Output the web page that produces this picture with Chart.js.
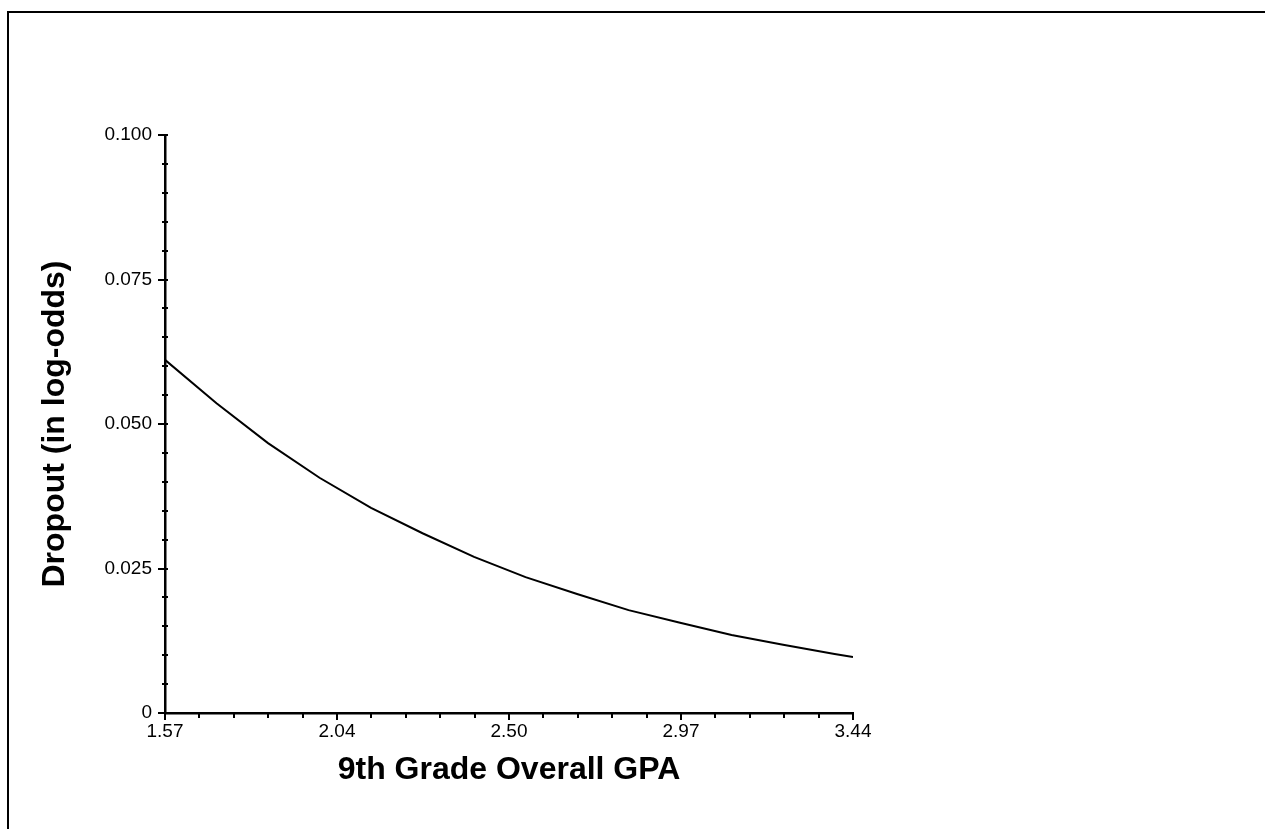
<!DOCTYPE html>
<html>
<head>
<meta charset="utf-8">
<script src="https://cdn.jsdelivr.net/npm/chart.js@4"></script>
<style>
  body { margin: 0; background: #fff; }
</style>
</head>
<body>
<canvas id="grafico" width="1265" height="829"></canvas>
<script>
// values
const gpa = [1.57, 1.71, 1.85, 1.99, 2.13, 2.27, 2.41, 2.55, 2.69, 2.83, 2.97, 3.11, 3.25, 3.39, 3.44];
const dropout = [0.0611, 0.0536, 0.0467, 0.0407, 0.0355, 0.0311, 0.0270, 0.0235, 0.0206, 0.0178, 0.0156, 0.0135, 0.0118, 0.0102, 0.0097];

const xTickLabels = ['1.57', '2.04', '2.50', '2.97', '3.44'];
const yTickLabels = ['0', '0.025', '0.050', '0.075', '0.100'];

const xMin = 1.57, xMax = 3.44;
const yMin = 0, yMax = 0.1;

// 4 minor ticks between each labelled one
const xTicks = [];
for (let k = 0; k <= 20; k++) xTicks.push(xMin + k * (xMax - xMin) / 20);
const yTicks = [];
for (let k = 0; k <= 20; k++) yTicks.push(yMin + k * (yMax - yMin) / 20);

const fonte = 'Liberation Sans, Arial, sans-serif';

const moldura = {
    id: 'moldura',
    beforeDraw(chart) {
        const ctx = chart.ctx;
        ctx.save();
        ctx.strokeStyle = '#000';
        ctx.lineWidth = 2;
        ctx.beginPath();
        ctx.moveTo(8, chart.height);
        ctx.lineTo(8, 12);
        ctx.lineTo(chart.width, 12);
        ctx.stroke();
        ctx.restore();
    }
};

const marcas = {
    id: 'marcas',
    afterDraw(chart) {
        const ctx = chart.ctx;
        const xs = chart.scales.x, ys = chart.scales.y;
        ctx.save();
        ctx.strokeStyle = '#000';
        ctx.lineWidth = 2;
        xs.ticks.forEach((t, i) => {
            const px = Math.round(xs.getPixelForValue(t.value));
            const len = i % 5 === 0 ? 7 : 5;
            ctx.beginPath();
            ctx.moveTo(px, xs.top);
            ctx.lineTo(px, xs.top + len);
            ctx.stroke();
        });
        ys.ticks.forEach((t, i) => {
            const py = Math.round(ys.getPixelForValue(t.value));
            const major = i % 5 === 0;
            ctx.beginPath();
            ctx.moveTo(ys.right - (major ? 7 : 3), py);
            ctx.lineTo(ys.right + 3, py);
            ctx.stroke();
        });
        ctx.restore();
    }
};

new Chart(document.getElementById('grafico'), {
    type: 'line',

    data: {
        datasets: [{
            data: gpa.map((g, i) => ({ x: g, y: dropout[i] })),
            borderColor: '#000',
            borderWidth: 2,
            pointRadius: 0,
            tension: 0,
            fill: false
        }]
    },

    options: {
        responsive: false,
        animation: false,
        layout: {
            padding: { left: 0, top: 135, right: 412, bottom: 0 }
        },
        plugins: {
            legend: { display: false },
            tooltip: { enabled: false }
        },

        scales: {
            x: {
                type: 'linear',
                min: xMin,
                max: xMax,
                afterBuildTicks: (scale) => {
                    scale.ticks = xTicks.map(v => ({ value: v }));
                },
                afterFit: (scale) => { scale.height = 116; },
                ticks: {
                    autoSkip: false,
                    maxRotation: 0,
                    padding: 1,
                    color: '#000',
                    font: { family: fonte, size: 19 },
                    callback: (v, i) => i % 5 === 0 ? xTickLabels[i / 5] : ''
                },
                grid: {
                    drawOnChartArea: false,
                    tickColor: 'rgba(0,0,0,0)',
                    tickLength: 6
                },
                border: { color: '#000', width: 2.5 },
                title: {
                    display: true,
                    text: '9th Grade Overall GPA',
                    color: '#000',
                    font: { family: fonte, size: 32, weight: 'bold' },
                    padding: { top: 40, bottom: 40 }
                }
            },

            y: {
                type: 'linear',
                min: yMin,
                max: yMax,
                afterBuildTicks: (scale) => {
                    scale.ticks = yTicks.map(v => ({ value: v }));
                },
                afterFit: (scale) => { scale.width = 165; },
                ticks: {
                    autoSkip: false,
                    padding: 7,
                    color: '#000',
                    font: { family: fonte, size: 19 },
                    callback: (v, i) => i % 5 === 0 ? yTickLabels[i / 5] : ''
                },
                grid: {
                    drawOnChartArea: false,
                    tickColor: 'rgba(0,0,0,0)',
                    tickLength: 6
                },
                border: { color: '#000', width: 2.5 },
                title: {
                    display: true,
                    text: 'Dropout (in log-odds)',
                    color: '#000',
                    font: { family: fonte, size: 32, weight: 'bold' },
                    padding: { top: 36, bottom: 36 }
                }
            }
        }
    },

    plugins: [moldura, marcas]
});
</script>
</body>
</html>
